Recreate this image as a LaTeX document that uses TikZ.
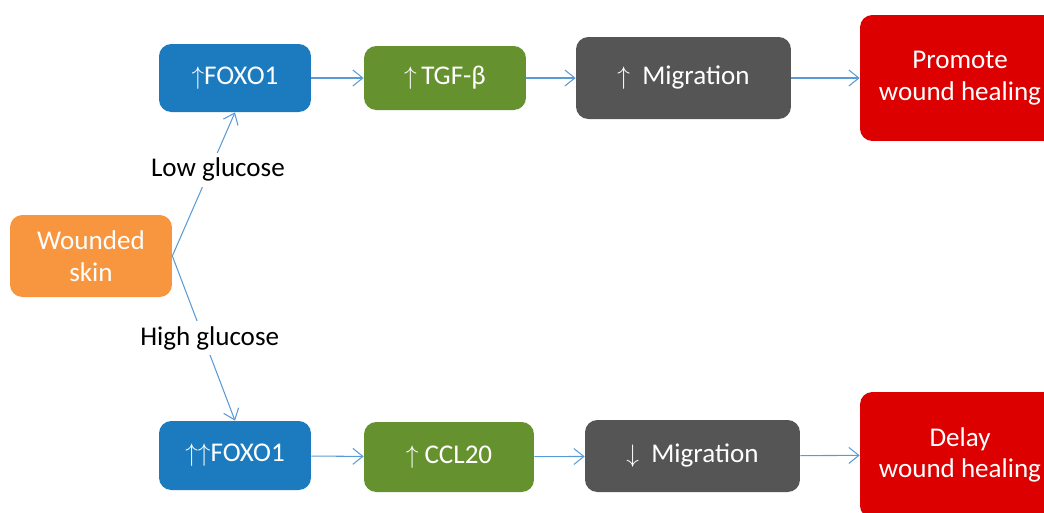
\documentclass[tikz,border=0pt]{standalone}
\usepackage{fontspec}
\setmainfont{Carlito}
\usepackage{amsmath,amssymb}
\usepackage{xcolor}
\usepackage{tikz}
\usetikzlibrary{arrows.meta,positioning}
\definecolor{linec}{HTML}{5B9BD5}
\definecolor{orangec}{HTML}{F89640}
\definecolor{bluec}{HTML}{1C7BBF}
\definecolor{greenc}{HTML}{65922F}
\definecolor{grayc}{HTML}{555555}
\definecolor{redc}{HTML}{DD0000}
\tikzset{
  ar/.style={-{Straight Barb[length=2mm,width=3.2mm]},line width=0.6pt,linec},
  box/.style={rounded corners=7pt,align=center,text=white,inner sep=2pt,
    font=\fontsize{15.4}{18}\selectfont},
  lbl/.style={fill=white,text=black,inner sep=3pt,font=\fontsize{15.4}{18}\selectfont}
}
\begin{document}
\begin{tikzpicture}[x=0.02cm,y=-0.02cm]
\useasboundingbox (0,0) rectangle (1044,512);
\clip (0,0) rectangle (1044,512);
\node[box,fill=orangec,minimum width=3.24cm,minimum height=1.64cm] (wound) at (91,256) {Wounded\\skin};
\node[box,fill=bluec,minimum width=3.04cm,minimum height=1.36cm] (foxoA) at (235,78) {$\uparrow$FOXO1};
\node[box,fill=greenc,minimum width=3.24cm,minimum height=1.28cm] (tgf) at (445,78) {$\uparrow$\,TGF-β};
\node[box,fill=grayc,minimum width=4.3cm,minimum height=1.64cm] (migA) at (683.5,78) {$\uparrow$\ \ Migration};
\node[box,fill=redc,minimum width=4.0cm,minimum height=2.52cm] (prom) at (960,78) {Promote\\wound healing};
\node[box,fill=bluec,minimum width=3.04cm,minimum height=1.38cm] (foxoB) at (235,455.5) {$\uparrow\uparrow$FOXO1};
\node[box,fill=greenc,minimum width=3.4cm,minimum height=1.4cm] (ccl) at (449,457) {$\uparrow$\ CCL20};
\node[box,fill=grayc,minimum width=4.3cm,minimum height=1.44cm] (migB) at (692.5,456) {$\downarrow$\ \ Migration};
\node[box,fill=redc,minimum width=4.0cm,minimum height=2.52cm] (delay) at (960,455) {Delay\\wound healing};
\draw[ar] (wound.east) -- node[lbl,pos=0.6,xshift=0.16cm] (low) {Low glucose} (foxoA.south);
\draw[ar] (wound.east) -- node[lbl,pos=0.5,xshift=0.12cm] (high) {High glucose} (foxoB.north);
\draw[ar] (foxoA) -- (tgf);
\draw[ar] (tgf) -- (migA);
\draw[ar] (migA) -- (prom);
\draw[ar] (foxoB) -- (ccl);
\draw[ar] (ccl) -- (migB);
\draw[ar] (migB) -- (delay);
\end{tikzpicture}
\end{document}
